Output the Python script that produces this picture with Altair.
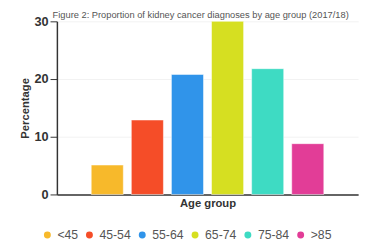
import altair as alt
import pandas as pd

age_groups = ["<45", "45-54", "55-64", "65-74", "75-84", ">85"]
percentages = [5.1, 12.9, 20.8, 30.0, 21.8, 8.8]
colors = ["#F7B92B", "#F54D28", "#3094EA", "#D6DF21", "#3EDBC3", "#E23D97"]
title_text = "Figure 2: Proportion of kidney cancer diagnoses by age group (2017/18)"

df = pd.DataFrame({"Age group": age_groups, "Percentage": percentages})

FONT = "Liberation Sans"

bars = alt.Chart(df).mark_bar(stroke="white", strokeOpacity=0.5, strokeWidth=1).encode(
    x=alt.X("Age group:N", sort=age_groups,
            scale=alt.Scale(paddingInner=0.2, paddingOuter=0.856),
            axis=alt.Axis(labels=False, ticks=False, domainColor="#333333", domainWidth=1.5,
                          titleFont=FONT, titleFontSize=11.5, titleFontWeight="bold",
                          titleColor="#333333", titlePadding=3)),
    y=alt.Y("Percentage:Q", scale=alt.Scale(domain=[0, 30]),
            axis=alt.Axis(values=[0, 10, 20, 30], domainColor="#333333", domainWidth=1.5,
                          tickColor="#333333", tickSize=7, labelPadding=2,
                          labelFont=FONT, labelFontSize=13, labelFontWeight="bold",
                          labelColor="#333333", gridColor="#f2f2f2",
                          titleFont=FONT, titleFontSize=11.5, titleFontWeight="bold",
                          titleColor="#333333", titlePadding=4)),
    color=alt.Color("Age group:N", sort=age_groups,
                    scale=alt.Scale(domain=age_groups, range=colors),
                    legend=alt.Legend(orient="none", direction="horizontal", title=None,
                                      legendX=-16, legendY=212, symbolType="circle",
                                      symbolSize=50, symbolStrokeWidth=0, labelFont=FONT,
                                      labelFontSize=12.5, labelColor="#555555",
                                      labelOffset=4, columnPadding=5)),
)

title = alt.Chart(pd.DataFrame({"t": [title_text]})).mark_text(
    align="center", baseline="alphabetic", font=FONT, fontSize=9.5, color="#555555"
).encode(x=alt.value(147), y=alt.value(-3), text="t:N")

chart = alt.layer(bars, title).properties(
    width=308, height=177,
    autosize=alt.AutoSizeParams(type="none"),
    padding={"left": 50, "top": 11, "right": 6, "bottom": 48},
).configure_view(stroke=None)

chart.save("out.html", embed_options={"renderer": "svg", "actions": False})
